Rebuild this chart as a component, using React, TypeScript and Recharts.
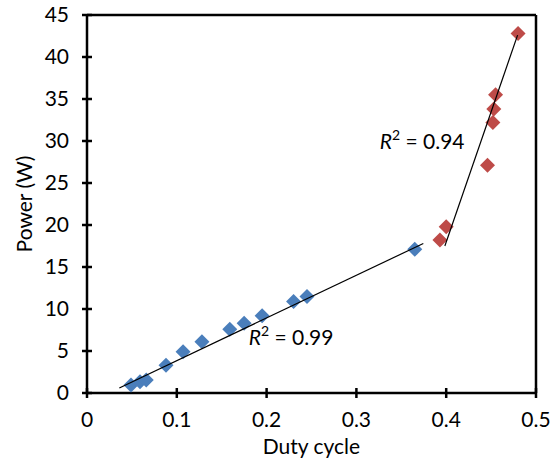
import { ScatterChart, Scatter, XAxis, YAxis, ReferenceLine, ReferenceDot } from 'recharts';

// duty cycle (x) vs power in W (y)
const lowDuty = [0.049, 0.059, 0.066, 0.088, 0.107, 0.128, 0.159, 0.175, 0.195, 0.23, 0.245, 0.365];
const lowPower = [0.95, 1.35, 1.55, 3.3, 4.9, 6.1, 7.6, 8.3, 9.2, 10.9, 11.5, 17.1];

const highDuty = [0.393, 0.4, 0.446, 0.452, 0.453, 0.455, 0.48];
const highPower = [18.2, 19.8, 27.1, 32.2, 33.8, 35.5, 42.8];

// trendline end points
const lowTrendX = [0.036, 0.3745];
const lowTrendY = [0.6, 17.8];
const highTrendX = [0.3985, 0.4795];
const highTrendY = [17.5, 42.6];

const xTicks = [0, 0.1, 0.2, 0.3, 0.4, 0.5];
const yTicks = [0, 5, 10, 15, 20, 25, 30, 35, 40, 45];

const zip = (xs: number[], ys: number[]) => xs.map((x, i) => ({ x, y: ys[i] }));

const lowData = zip(lowDuty, lowPower);
const highData = zip(highDuty, highPower);
const lowTrend = zip(lowTrendX, lowTrendY);
const highTrend = zip(highTrendX, highTrendY);

const FONT = 'Lato, "DejaVu Sans", sans-serif';
const FS = 21;

const diamond = (color: string) => (props: any) => {
  const { cx, cy } = props;
  const h = 7.5;
  return (
    <polygon
      points={`${cx},${cy - h} ${cx + h},${cy} ${cx},${cy + h} ${cx - h},${cy}`}
      fill={color}
    />
  );
};

const XTick = (props: any) => {
  const { x, y, payload } = props;
  const axisY = y - 34;
  return (
    <g>
      <line x1={x} x2={x} y1={axisY - 5} y2={axisY + 5} stroke="#000" strokeWidth={2.5} />
      <text x={x} y={y} textAnchor="middle" fontSize={FS} fontFamily={FONT} fill="#000">
        {payload.value}
      </text>
    </g>
  );
};

const YTick = (props: any) => {
  const { x, y, payload } = props;
  const axisX = x + 18;
  return (
    <g>
      <line x1={axisX - 5} x2={axisX + 5} y1={y} y2={y} stroke="#000" strokeWidth={2.5} />
      <text x={x} y={y + 7} textAnchor="end" fontSize={FS} fontFamily={FONT} fill="#000">
        {payload.value}
      </text>
    </g>
  );
};

const r2Label = (value: string) => (props: any) => {
  const { viewBox } = props;
  return (
    <text x={viewBox.x} y={viewBox.y + 7} fontSize={FS} fontFamily={FONT} fill="#000">
      <tspan fontStyle="italic">R</tspan>
      <tspan dy={-9} fontSize={14}>2</tspan>
      <tspan dy={9}>{` = ${value}`}</tspan>
    </text>
  );
};

export default function App() {
  return (
    <div style={{ position: 'absolute', left: 0, top: 0, width: 559, height: 462, background: '#fff' }}>
      <ScatterChart width={559} height={462} margin={{ top: 15, right: 23, left: 0, bottom: 0 }}>
        <XAxis
          type="number"
          dataKey="x"
          domain={[0, 0.5]}
          ticks={xTicks}
          height={69}
          tickSize={0}
          tickMargin={34}
          tick={<XTick />}
          axisLine={{ stroke: '#000', strokeWidth: 2.5 }}
          label={{
            content: (p: any) => (
              <text
                x={p.viewBox.x + p.viewBox.width / 2}
                y={p.viewBox.y + 61}
                textAnchor="middle"
                fontSize={FS}
                fontFamily={FONT}
                fill="#000"
              >
                Duty cycle
              </text>
            ),
          }}
        />
        <YAxis
          type="number"
          dataKey="y"
          domain={[0, 45]}
          ticks={yTicks}
          width={87}
          tickSize={0}
          tickMargin={18}
          tick={<YTick />}
          axisLine={{ stroke: '#000', strokeWidth: 2.5 }}
          label={{
            content: (p: any) => {
              const cx = p.viewBox.x + 32;
              const cy = p.viewBox.y + p.viewBox.height / 2;
              return (
                <text
                  x={cx}
                  y={cy}
                  transform={`rotate(-90, ${cx}, ${cy})`}
                  textAnchor="middle"
                  fontSize={FS}
                  fontFamily={FONT}
                  fill="#000"
                >
                  Power (W)
                </text>
              );
            },
          }}
        />
        <ReferenceLine y={45} stroke="#000" strokeWidth={2.5} />
        <ReferenceLine x={0.5} stroke="#000" strokeWidth={2.5} />
        <Scatter data={lowData} shape={diamond('#4a7ebb')} isAnimationActive={false} />
        <Scatter data={highData} shape={diamond('#be4b48')} isAnimationActive={false} />
        <Scatter
          data={lowTrend}
          line={{ stroke: '#000', strokeWidth: 1.2 }}
          shape={() => <g />}
          isAnimationActive={false}
        />
        <Scatter
          data={highTrend}
          line={{ stroke: '#000', strokeWidth: 1.2 }}
          shape={() => <g />}
          isAnimationActive={false}
        />
        <ReferenceDot x={0.18} y={6.5} r={0} fill="none" stroke="none" label={{ content: r2Label('0.99') }} />
        <ReferenceDot x={0.326} y={29.9} r={0} fill="none" stroke="none" label={{ content: r2Label('0.94') }} />
      </ScatterChart>
    </div>
  );
}
